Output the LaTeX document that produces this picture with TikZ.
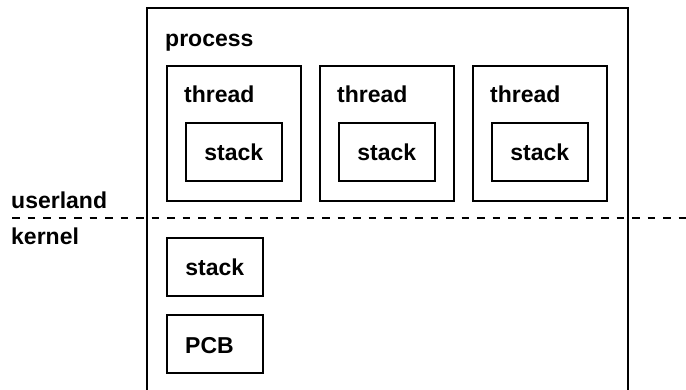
\documentclass[tikz,border=0pt]{standalone}
\usepackage{fontspec}
\setmainfont{Liberation Sans}
\usetikzlibrary{calc}
\tikzset{
  box/.style={draw=black, line width=1.6pt, rectangle, inner sep=0pt, anchor=north west},
  lbl/.style={inner sep=0pt, anchor=base west, font=\fontsize{23}{27}\selectfont\bfseries},
  divider/.style={line width=1.3pt, dash pattern=on 7.5pt off 8pt}
}
\begin{document}
\begin{tikzpicture}[x=1pt,y=-1pt]
\useasboundingbox (0,0) rectangle (686,390);
\clip (0,0) rectangle (686,390);
\fill[white] (0,0) rectangle (686,390);
% process box (bottom edge lies outside the picture)
\node[box, minimum width=481pt, minimum height=400pt] (proc) at (146,7) {};
\node[lbl] (proclbl) at ($(proc.north west)+(19,40)$) {process};
% threads
\foreach \i/\x in {1/166,2/319,3/472}{
  \node[box, minimum width=134pt, minimum height=135pt] (t\i) at (\x,65) {};
  \node[lbl] (tl\i) at ($(t\i.north west)+(18,38)$) {thread};
  \node[box, minimum width=96pt, minimum height=58pt] (s\i) at ($(t\i.north west)+(19,57)$) {};
  \node[lbl, anchor=base] (sl\i) at ($(s\i.north)+(0,39)$) {stack};
}
% divider
\coordinate (dl) at (12,218);
\coordinate (dr) at (690,218);
\draw[divider] (dl) -- (dr);
\node[lbl] (user) at (11,209) {userland};
\node[lbl] (kern) at (11,245) {kernel};
% kernel side
\node[box, minimum width=96pt, minimum height=58pt] (ks) at (166,237) {};
\node[lbl, anchor=base] (ksl) at ($(ks.north)+(0,39)$) {stack};
\node[box, minimum width=96pt, minimum height=58pt] (pcb) at (166,314) {};
\node[lbl] (pcbl) at ($(pcb.north west)+(19,39)$) {PCB};
\end{tikzpicture}
\end{document}
